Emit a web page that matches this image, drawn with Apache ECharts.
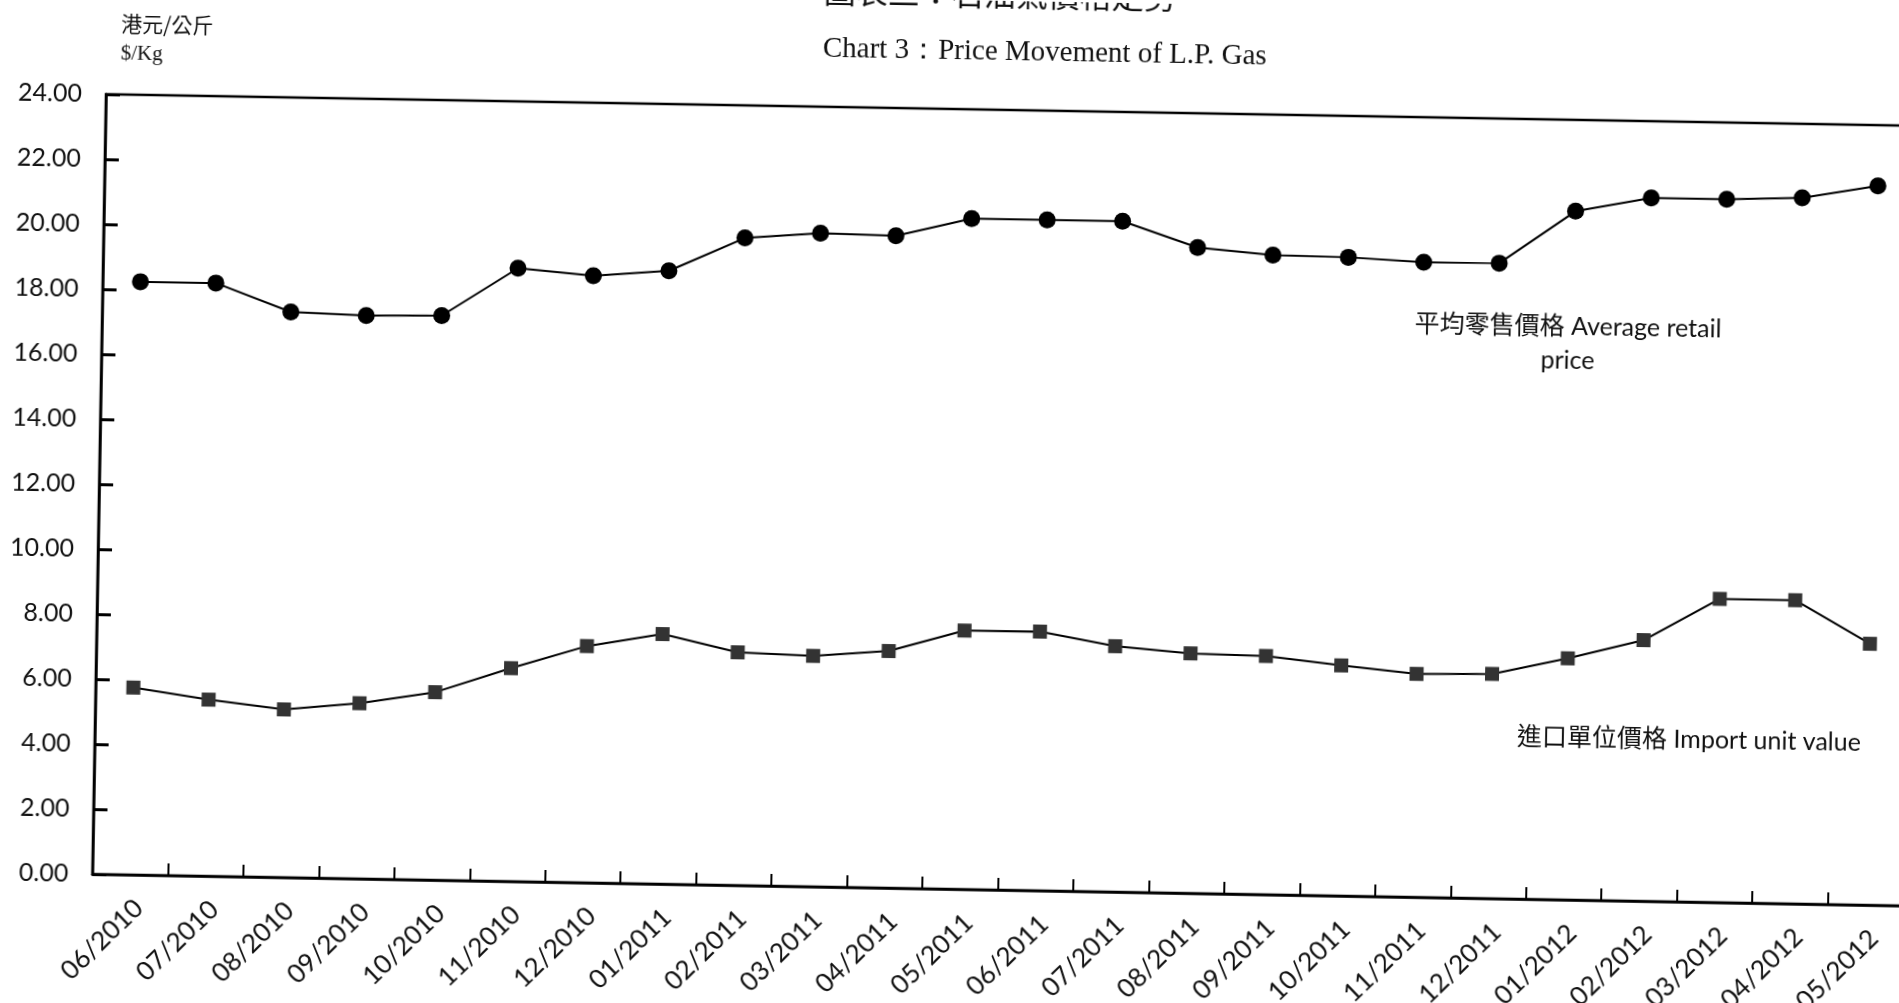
<!DOCTYPE html>
<html>
<head>
<meta charset="utf-8">
<script src="https://cdn.jsdelivr.net/npm/echarts@6/dist/echarts.min.js"></script>
<style>
html,body{margin:0;padding:0;background:#fff;overflow:hidden;width:1899px;height:1003px;}
#chart{position:absolute;left:0;top:0;width:1940px;height:1003px;transform-origin:949.5px 501.5px;transform:rotate(1deg);}
</style>
</head>
<body>
<div id="chart"></div>
<script>
const categories = ['06/2010','07/2010','08/2010','09/2010','10/2010','11/2010','12/2010',
  '01/2011','02/2011','03/2011','04/2011','05/2011','06/2011','07/2011','08/2011','09/2011',
  '10/2011','11/2011','12/2011','01/2012','02/2012','03/2012','04/2012','05/2012'];
const retailPrice = [18.25,18.25,17.40,17.33,17.37,18.87,18.68,18.87,19.92,20.11,20.07,20.64,
  20.64,20.64,19.87,19.68,19.65,19.54,19.55,21.19,21.64,21.64,21.72,22.13];
const importValue = [5.76,5.43,5.17,5.40,5.78,6.56,7.28,7.69,7.17,7.10,7.29,7.96,
  7.97,7.56,7.38,7.34,7.09,6.87,6.91,7.43,8.03,9.34,9.34,8.04];
const retailName = '平均零售價格 Average retail\nprice';
const importName = '進口單位價格 Import unit value';
const titleZh = '圖表三：石油氣價格走勢';
const titleEn = 'Chart 3：Price Movement of L.P. Gas';
const unitZh = '港元/公斤';
const unitEn = '$/Kg';

const chart = echarts.init(document.getElementById('chart'), null, {renderer:'canvas'});
const sansFont = 'Lato, "Noto Sans CJK TC", sans-serif';
chart.setOption({
  animation:false,
  backgroundColor:'#fff',
  grid:{left:99, top:109, right:30, bottom:114, show:true, borderColor:'#000', borderWidth:2.5, containLabel:false},
  graphic:[
    {type:'text', x:815, y:-3, style:{text:titleZh, font:'32px "Liberation Serif", "Noto Sans CJK TC", serif', fill:'#111', textAlign:'left', textVerticalAlign:'middle'}},
    {type:'text', x:815, y:51, style:{text:titleEn, font:'29px "Liberation Serif", serif', fill:'#111', textAlign:'left', textVerticalAlign:'middle'}},
    {type:'text', x:113, y:38, style:{text:unitZh, font:'21px "Noto Sans CJK TC", sans-serif', fill:'#111', textAlign:'left', textVerticalAlign:'middle'}},
    {type:'text', x:113, y:68, style:{text:unitEn, font:'21px "Liberation Serif", serif', fill:'#111', textAlign:'left', textVerticalAlign:'middle'}},
    {type:'text', x:1565, y:333, style:{text:retailName, font:'25px ' + sansFont, fill:'#111', textAlign:'center', textVerticalAlign:'middle', lineHeight:34}},
    {type:'text', x:1693, y:727, style:{text:importName, font:'25px ' + sansFont, fill:'#111', textAlign:'center', textVerticalAlign:'middle'}}
  ],
  xAxis:{
    type:'category', data:categories, boundaryGap:true, z:10,
    axisLine:{show:true, lineStyle:{color:'#000', width:2.5}},
    axisTick:{show:true, inside:true, length:12, lineStyle:{color:'#000', width:2}},
    axisLabel:{interval:0, rotate:45, margin:20, fontSize:26, fontFamily:sansFont, color:'#111', align:'right', verticalAlign:'top'},
    splitLine:{show:false}
  },
  yAxis:{
    type:'value', min:0, max:24, interval:2, z:10,
    axisLine:{show:true, lineStyle:{color:'#000', width:2.5}},
    axisTick:{show:true, inside:true, length:14, lineStyle:{color:'#000', width:3}},
    axisLabel:{margin:24, fontSize:25, fontFamily:sansFont, color:'#111', formatter:v=>v.toFixed(2)},
    splitLine:{show:false}
  },
  series:[
    {name:'平均零售價格 Average retail price', type:'line', data:retailPrice, symbol:'circle', symbolSize:17,
     lineStyle:{color:'#000', width:2}, itemStyle:{color:'#000'}},
    {name:'進口單位價格 Import unit value', type:'line', data:importValue, symbol:'rect', symbolSize:14,
     lineStyle:{color:'#000', width:2}, itemStyle:{color:'#333'}}
  ]
});
</script>
</body>
</html>
